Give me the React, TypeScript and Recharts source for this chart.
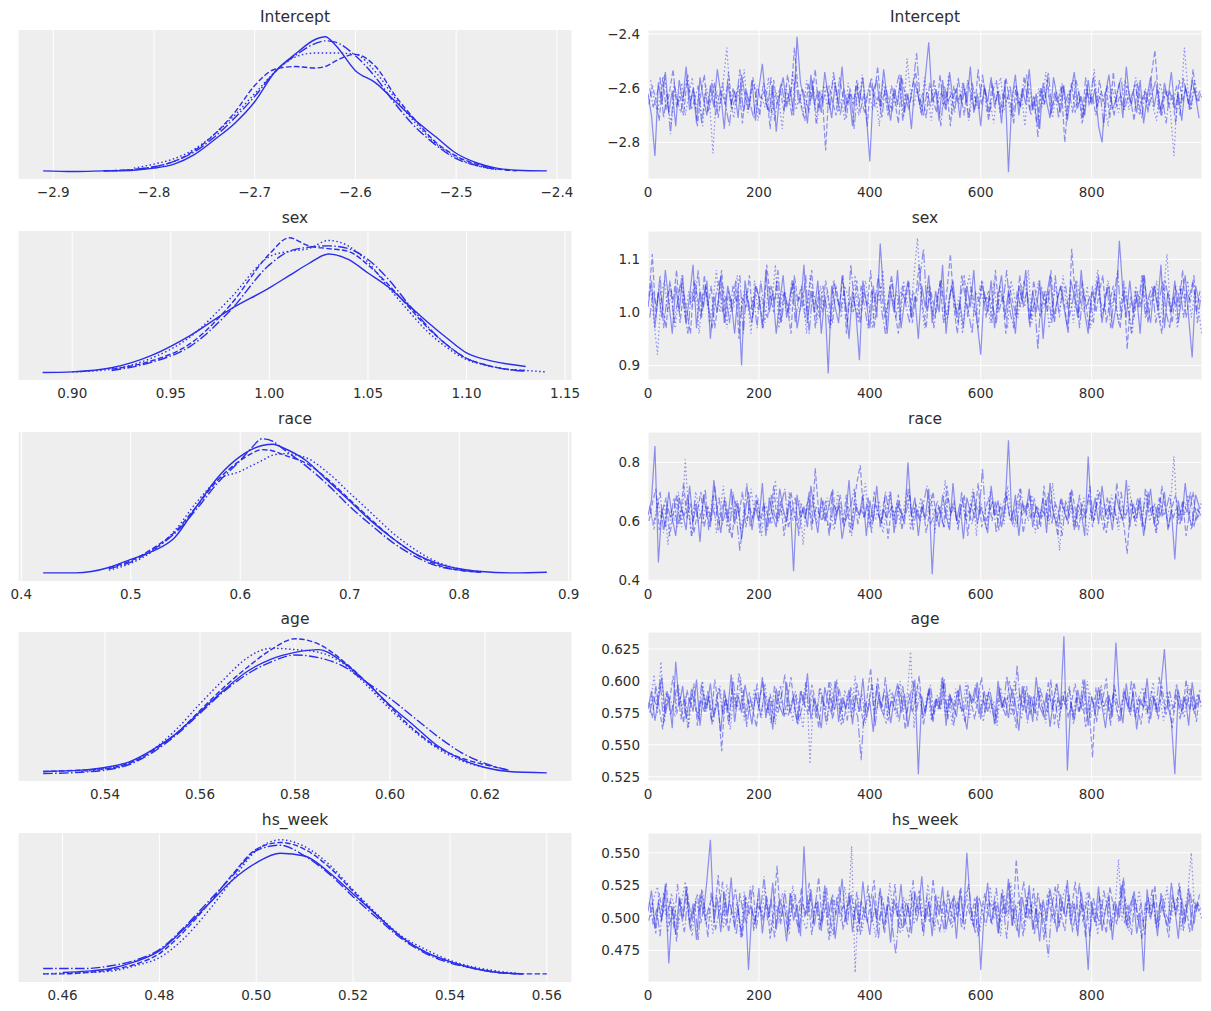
import { CartesianGrid, Line, LineChart, XAxis, YAxis } from "recharts";

const BLUE = "#2a2eec";
const PANEL_BG = "#eeeeee";
const TEXT = "#2e2e2e";
const FONT = "'DejaVu Sans', sans-serif";

// chain 0..3: solid, dashed, dash-dot, dotted
const CHAIN_DASH = [undefined, "5.5 2.4", "9.6 2.4 1.5 2.4", "1.5 2.5"];
const CHAINS = ["c0", "c1", "c2", "c3"];

const DRAW_TICKS = [0, 200, 400, 600, 800];
// ~every 6th draw out of 0..999, the four chains sampled a quarter-step apart
const STEP = 6.25;
const drawAt = (i: number, c: number) => i * STEP + (c * STEP) / 4;

const _ = null;

// ---------- Intercept ----------
const interceptGrid = [-2.91, -2.88, -2.85, -2.82, -2.8, -2.78, -2.76, -2.74, -2.72, -2.7, -2.68, -2.66, -2.64, -2.63, -2.62, -2.6, -2.58, -2.56, -2.54, -2.52, -2.5, -2.48, -2.46, -2.44, -2.41];
const interceptKde = [
  [1, 0.5, 1, 1.5, 3, 6, 13, 24, 36, 52, 74, 87, 98, 100, 94, 75, 66, 52, 38, 26, 14, 7, 3, 1.5, 1],
  [_, _, 1, 2, 4, 8, 16, 28, 44, 64, 76, 78, 77, 78, 82, 87, 78, 56, 38, 22, 12, 6, 2.5, 1, _],
  [_, _, 1, 2, 4, 8, 15, 26, 40, 56, 74, 86, 95, 97, 96, 86, 70, 50, 33, 20, 10, 5, 2, _, _],
  [_, _, _, 3, 6, 10, 17, 28, 42, 58, 74, 85, 88, 88, 88, 87, 74, 54, 36, 21, 11, 5, 2, _, _],
];
const interceptTrace = [
  [-2.62, -2.7, -2.85, -2.58, -2.66, -2.54, -2.69, -2.61, -2.74, -2.57, -2.65, -2.52, -2.68, -2.6, -2.73, -2.56, -2.64, -2.7, -2.59, -2.67, -2.53, -2.62, -2.75, -2.58, -2.66, -2.61, -2.71, -2.55, -2.63, -2.68, -2.57, -2.72, -2.6, -2.51, -2.65, -2.69, -2.59, -2.76, -2.62, -2.56, -2.67, -2.6, -2.7, -2.41, -2.58, -2.64, -2.73, -2.55, -2.66, -2.61, -2.69, -2.54, -2.63, -2.71, -2.58, -2.66, -2.52, -2.68, -2.62, -2.74, -2.59, -2.65, -2.56, -2.7, -2.87, -2.61, -2.57, -2.67, -2.53, -2.64, -2.72, -2.6, -2.66, -2.55, -2.69, -2.62, -2.75, -2.58, -2.63, -2.7, -2.56, -2.43, -2.65, -2.61, -2.72, -2.57, -2.68, -2.54, -2.64, -2.6, -2.71, -2.58, -2.66, -2.52, -2.69, -2.62, -2.74, -2.59, -2.65, -2.56, -2.67, -2.61, -2.73, -2.57, -2.91, -2.64, -2.55, -2.7, -2.6, -2.66, -2.53, -2.68, -2.62, -2.75, -2.58, -2.65, -2.71, -2.56, -2.63, -2.69, -2.59, -2.72, -2.61, -2.54, -2.67, -2.63, -2.7, -2.57, -2.66, -2.6, -2.74, -2.8, -2.62, -2.55, -2.68, -2.64, -2.58, -2.71, -2.52, -2.65, -2.61, -2.69, -2.57, -2.73, -2.63, -2.56, -2.67, -2.6, -2.7, -2.58, -2.64, -2.54, -2.68, -2.62, -2.72, -2.59, -2.66, -2.57, -2.63, -2.71],
  [-2.66, -2.59, -2.64, -2.72, -2.56, -2.68, -2.61, -2.53, -2.67, -2.63, -2.7, -2.57, -2.65, -2.6, -2.74, -2.62, -2.55, -2.69, -2.64, -2.58, -2.71, -2.61, -2.66, -2.54, -2.68, -2.63, -2.59, -2.73, -2.6, -2.67, -2.56, -2.64, -2.7, -2.58, -2.62, -2.75, -2.57, -2.66, -2.61, -2.69, -2.55, -2.63, -2.45, -2.6, -2.67, -2.72, -2.58, -2.64, -2.53, -2.68, -2.62, -2.83, -2.59, -2.65, -2.7, -2.56, -2.63, -2.71, -2.6, -2.66, -2.57, -2.69, -2.62, -2.74, -2.58, -2.64, -2.52, -2.67, -2.61, -2.7, -2.59, -2.65, -2.73, -2.56, -2.63, -2.68, -2.6, -2.54, -2.66, -2.62, -2.71, -2.58, -2.64, -2.69, -2.55, -2.67, -2.61, -2.74, -2.59, -2.65, -2.62, -2.7, -2.57, -2.63, -2.68, -2.53, -2.66, -2.6, -2.72, -2.58, -2.65, -2.61, -2.69, -2.56, -2.64, -2.71, -2.59, -2.67, -2.62, -2.55, -2.68, -2.63, -2.74, -2.6, -2.66, -2.57, -2.7, -2.62, -2.65, -2.59, -2.8, -2.64, -2.58, -2.69, -2.61, -2.73, -2.56, -2.66, -2.63, -2.7, -2.57, -2.65, -2.6, -2.71, -2.54, -2.67, -2.62, -2.68, -2.59, -2.64, -2.72, -2.58, -2.66, -2.61, -2.69, -2.55, -2.46, -2.63, -2.7, -2.6, -2.67, -2.62, -2.73, -2.57, -2.65, -2.6, -2.68, -2.53, -2.64, -2.61],
  [-2.6, -2.67, -2.63, -2.56, -2.71, -2.62, -2.77, -2.58, -2.65, -2.69, -2.61, -2.55, -2.68, -2.64, -2.59, -2.73, -2.62, -2.66, -2.57, -2.7, -2.63, -2.58, -2.67, -2.74, -2.6, -2.65, -2.53, -2.69, -2.62, -2.66, -2.71, -2.59, -2.64, -2.61, -2.68, -2.56, -2.72, -2.63, -2.58, -2.67, -2.62, -2.7, -2.55, -2.66, -2.6, -2.64, -2.69, -2.57, -2.73, -2.61, -2.65, -2.59, -2.68, -2.54, -2.63, -2.7, -2.6, -2.66, -2.62, -2.75, -2.58, -2.64, -2.69, -2.61, -2.56, -2.67, -2.63, -2.71, -2.59, -2.65, -2.68, -2.6, -2.55, -2.72, -2.62, -2.66, -2.58, -2.47, -2.64, -2.7, -2.61, -2.67, -2.57, -2.63, -2.74, -2.59, -2.65, -2.62, -2.69, -2.56, -2.66, -2.6, -2.72, -2.58, -2.64, -2.68, -2.55, -2.63, -2.7, -2.61, -2.57, -2.69, -2.62, -2.65, -2.59, -2.73, -2.61, -2.67, -2.56, -2.64, -2.7, -2.63, -2.78, -2.6, -2.66, -2.54, -2.68, -2.62, -2.71, -2.58, -2.65, -2.61, -2.69, -2.57, -2.63, -2.72, -2.6, -2.66, -2.55, -2.67, -2.62, -2.74, -2.59, -2.64, -2.7, -2.61, -2.56, -2.68, -2.63, -2.66, -2.58, -2.65, -2.71, -2.6, -2.67, -2.62, -2.57, -2.69, -2.64, -2.73, -2.61, -2.66, -2.59, -2.7, -2.56, -2.63, -2.68, -2.6, -2.65, -2.62],
  [-2.57, -2.64, -2.69, -2.61, -2.55, -2.67, -2.73, -2.6, -2.66, -2.58, -2.7, -2.63, -2.56, -2.68, -2.62, -2.74, -2.59, -2.65, -2.84, -2.61, -2.67, -2.57, -2.45, -2.64, -2.71, -2.6, -2.66, -2.53, -2.69, -2.62, -2.58, -2.72, -2.63, -2.67, -2.56, -2.7, -2.61, -2.64, -2.75, -2.59, -2.66, -2.54, -2.68, -2.62, -2.7, -2.57, -2.65, -2.6, -2.73, -2.63, -2.59, -2.67, -2.61, -2.56, -2.69, -2.64, -2.72, -2.58, -2.66, -2.62, -2.7, -2.55, -2.65, -2.6, -2.68, -2.63, -2.74, -2.57, -2.64, -2.69, -2.61, -2.67, -2.58, -2.71, -2.49, -2.62, -2.66, -2.6, -2.69, -2.56, -2.64, -2.72, -2.59, -2.65, -2.61, -2.68, -2.55, -2.7, -2.63, -2.66, -2.58, -2.64, -2.71, -2.6, -2.67, -2.62, -2.57, -2.69, -2.65, -2.73, -2.61, -2.56, -2.68, -2.63, -2.7, -2.59, -2.66, -2.62, -2.74, -2.58, -2.65, -2.69, -2.6, -2.67, -2.54, -2.64, -2.71, -2.61, -2.66, -2.59, -2.72, -2.62, -2.57, -2.68, -2.63, -2.7, -2.6, -2.65, -2.53, -2.67, -2.61, -2.66, -2.74, -2.59, -2.64, -2.69, -2.62, -2.57, -2.68, -2.63, -2.56, -2.7, -2.63, -2.65, -2.6, -2.67, -2.72, -2.58, -2.64, -2.61, -2.69, -2.85, -2.62, -2.66, -2.45, -2.6, -2.68, -2.57, -2.65, -2.63],
];
const interceptKdeTicks = [-2.9, -2.8, -2.7, -2.6, -2.5, -2.4];
const interceptTraceTicks = [-2.8, -2.6, -2.4];

// ---------- sex ----------
const sexGrid = [0.885, 0.9, 0.92, 0.94, 0.96, 0.98, 1.0, 1.01, 1.02, 1.03, 1.04, 1.05, 1.06, 1.07, 1.08, 1.09, 1.1, 1.11, 1.12, 1.13, 1.14];
const sexKde = [
  [0.5, 1, 4, 13, 28, 47, 63, 72, 81, 88, 84, 74, 64, 51, 38, 26, 15, 10, 7, 5, _],
  [_, _, 3, 9, 22, 50, 88, 100, 94, 92, 90, 80, 66, 50, 34, 21, 11, 6, 3, 2, _],
  [_, _, 2, 8, 20, 46, 80, 90, 93, 94, 92, 84, 70, 52, 35, 21, 11, 6, 3, 1.5, _],
  [_, 1, 3, 11, 27, 55, 86, 90, 92, 98, 94, 82, 64, 47, 31, 19, 10, 6, 3, 2, 1],
];
const sexTrace = [
  [1.01, 1.06, 0.97, 1.04, 0.99, 1.08, 1.02, 0.96, 1.05, 1.0, 1.07, 0.98, 1.03, 1.09, 0.97, 1.04, 1.01, 1.06, 0.95, 1.03, 1.0, 1.07, 0.98, 1.05, 1.02, 0.96, 1.04, 0.9, 1.06, 1.01, 0.98, 1.05, 1.03, 0.97, 1.08, 1.0, 1.04, 0.96, 1.02, 1.07, 0.99, 1.03, 1.06, 0.97, 1.01, 1.09, 0.98, 1.04, 1.0, 1.06, 0.96, 1.03, 0.885, 1.05, 1.01, 0.98, 1.07, 1.02, 0.95, 1.04, 1.0, 0.91, 1.06, 1.02, 0.97, 1.05, 0.99, 1.13, 1.03, 0.96, 1.04, 1.0, 1.08, 0.97, 1.02, 1.06, 0.99, 1.03, 0.95, 1.05, 1.01, 1.07, 0.98, 1.04, 1.0, 1.09, 0.96, 1.03, 1.06, 0.99, 1.02, 0.97, 1.05, 1.01, 1.08, 0.98, 0.92, 1.04, 1.0, 1.06, 0.97, 1.03, 1.07, 0.99, 1.04, 1.01, 0.96, 1.05, 1.02, 1.08, 0.98, 1.04, 1.0, 1.06, 0.95, 1.03, 1.07, 0.99, 1.02, 1.05, 1.01, 0.97, 1.06, 1.03, 0.99, 1.08, 1.0, 0.96, 1.04, 1.02, 1.07, 0.98, 1.03, 1.05, 0.97, 1.01, 1.135, 1.04, 0.99, 1.06, 1.0, 1.03, 0.96, 1.07, 1.02, 0.98, 1.05, 1.01, 1.09, 0.97, 1.04, 1.0, 1.06, 0.98, 1.03, 1.07, 0.99, 0.915, 1.05, 1.02],
  [1.03, 1.11, 0.99, 1.05, 1.01, 0.97, 1.06, 1.02, 1.08, 0.98, 1.04, 1.0, 0.96, 1.06, 1.03, 0.99, 1.07, 1.01, 1.05, 0.97, 1.02, 1.08, 0.98, 1.04, 1.0, 1.06, 0.95, 1.03, 1.01, 1.07, 0.99, 1.05, 1.02, 0.97, 1.09, 1.03, 1.0, 1.06, 0.98, 1.04, 1.01, 0.96, 1.07, 1.02, 1.05, 0.99, 1.03, 1.08, 0.97, 1.04, 1.0, 1.06, 1.02, 0.98, 1.05, 1.01, 1.07, 0.96, 1.03, 1.0, 1.06, 0.98, 1.04, 1.01, 1.08, 0.97, 1.03, 1.05, 0.99, 1.02, 1.07, 1.0, 0.96, 1.04, 1.02, 1.06, 0.98, 1.03, 1.09, 1.01, 0.97, 1.05, 1.02, 1.0, 1.06, 0.98, 1.04, 1.11, 1.01, 0.96, 1.03, 1.07, 0.99, 1.05, 1.01, 0.97, 1.06, 1.02, 1.04, 0.98, 1.08, 1.0, 1.03, 0.96, 1.05, 1.02, 0.99, 1.07, 1.01, 1.04, 0.97, 1.06, 1.02, 0.99, 1.04, 1.0, 1.08, 0.98, 1.03, 1.05, 1.01, 0.96, 1.12, 1.03, 0.99, 1.06, 1.02, 0.97, 1.05, 1.0, 1.04, 1.07, 0.98, 1.02, 1.05, 1.0, 0.97, 1.06, 0.93, 1.03, 0.99, 1.04, 1.01, 1.07, 0.98, 1.03, 1.05, 1.0, 0.96, 1.06, 1.02, 0.98, 1.05, 1.01, 1.08, 0.99, 1.03, 1.06, 1.0, 1.04],
  [0.99, 1.04, 1.01, 1.07, 0.97, 1.03, 1.05, 0.98, 1.02, 1.06, 1.0, 0.96, 1.04, 1.02, 1.08, 0.99, 1.05, 1.01, 0.97, 1.03, 1.06, 1.0, 1.03, 0.98, 1.05, 1.02, 1.07, 0.96, 1.04, 1.0, 1.03, 0.97, 1.06, 1.01, 0.99, 1.05, 1.02, 1.08, 0.98, 1.04, 1.0, 1.06, 0.98, 1.03, 1.01, 1.07, 0.96, 1.04, 1.02, 0.99, 1.05, 1.01, 0.97, 1.06, 1.03, 1.0, 1.04, 0.98, 1.09, 1.02, 0.99, 1.05, 1.01, 0.97, 1.04, 1.02, 1.07, 1.0, 0.96, 1.03, 1.06, 0.99, 1.03, 1.05, 1.01, 0.98, 1.04, 1.02, 1.07, 1.12, 1.0, 1.04, 0.97, 1.03, 1.06, 1.01, 0.99, 1.05, 1.02, 0.98, 1.07, 1.03, 1.0, 0.96, 1.04, 1.02, 1.06, 0.99, 1.03, 1.01, 0.98, 1.05, 1.02, 1.08, 1.0, 0.97, 1.04, 1.01, 1.06, 1.03, 0.99, 1.02, 0.93, 1.05, 1.01, 1.04, 0.98, 1.07, 1.0, 1.03, 1.05, 0.99, 1.02, 1.06, 0.97, 1.04, 1.01, 1.03, 0.98, 1.06, 1.02, 1.0, 1.05, 0.97, 1.03, 1.08, 0.99, 1.04, 1.01, 0.96, 1.04, 1.01, 1.07, 0.99, 1.03, 1.05, 0.98, 1.02, 1.06, 1.0, 0.97, 1.03, 1.01, 1.05, 0.99, 1.04, 1.02, 1.07, 0.98, 1.03],
  [1.05, 0.98, 0.92, 1.03, 1.06, 1.0, 1.04, 0.97, 1.02, 1.07, 0.99, 1.04, 1.01, 1.06, 0.96, 1.03, 1.05, 0.98, 1.02, 1.08, 1.0, 1.05, 0.97, 1.03, 1.01, 1.07, 0.99, 1.04, 1.02, 0.96, 1.06, 1.0, 1.03, 0.98, 1.05, 1.02, 1.09, 0.97, 1.04, 1.01, 0.99, 1.06, 1.03, 1.0, 1.04, 0.96, 1.07, 1.02, 0.98, 1.05, 1.01, 1.04, 0.97, 1.06, 1.02, 0.99, 1.05, 1.03, 1.0, 1.07, 0.98, 1.03, 1.06, 1.01, 0.97, 1.04, 1.02, 1.08, 0.99, 1.05, 1.01, 1.04, 0.98, 1.06, 1.02, 1.0, 1.07, 1.14, 1.03, 0.97, 1.05, 1.01, 0.99, 1.04, 1.06, 0.98, 1.02, 1.05, 1.0, 1.03, 0.96, 1.04, 1.07, 1.01, 0.99, 1.05, 1.02, 1.03, 0.98, 1.06, 1.0, 1.04, 1.02, 0.97, 1.06, 1.03, 0.99, 1.05, 1.01, 1.08, 0.98, 1.03, 1.06, 1.0, 1.04, 0.97, 1.02, 1.05, 0.99, 1.07, 1.01, 1.04, 0.98, 1.06, 1.02, 1.0, 1.05, 0.97, 1.03, 1.08, 0.99, 1.02, 1.06, 1.01, 1.04, 0.98, 1.03, 1.05, 1.0, 0.96, 1.05, 1.01, 1.07, 0.99, 1.03, 1.02, 1.06, 0.98, 1.04, 1.11, 1.0, 1.03, 0.97, 1.05, 1.02, 1.06, 0.99, 1.04, 1.01, 0.96],
];
const sexKdeTicks = [0.9, 0.95, 1.0, 1.05, 1.1, 1.15];
const sexTraceTicks = [0.9, 1.0, 1.1];

// ---------- race ----------
const raceGrid = [0.42, 0.45, 0.48, 0.5, 0.52, 0.54, 0.56, 0.58, 0.6, 0.61, 0.62, 0.63, 0.64, 0.66, 0.68, 0.7, 0.72, 0.74, 0.76, 0.78, 0.8, 0.82, 0.85, 0.88];
const raceKde = [
  [1, 1, 5, 11, 17, 27, 50, 72, 87, 92, 95, 96, 93, 84, 69, 54, 39, 26, 15, 8, 4, 2, 1, 1.5],
  [_, _, 5, 10, 19, 31, 50, 70, 84, 89, 92, 91, 88, 82, 70, 55, 40, 26, 15, 7, 3, 1.5, _, _],
  [_, _, 4, 9, 18, 30, 48, 68, 84, 93, 100, 98, 92, 80, 66, 50, 36, 23, 13, 6, 3, 1.5, _, _],
  [_, _, 3, 8, 17, 32, 53, 70, 76, 80, 84, 88, 89, 86, 75, 60, 45, 30, 18, 9, 4, 2, _, _],
];
const raceTrace = [
  [0.62, 0.67, 0.855, 0.46, 0.64, 0.58, 0.7, 0.61, 0.55, 0.68, 0.63, 0.57, 0.72, 0.6, 0.66, 0.53, 0.69, 0.62, 0.58, 0.74, 0.64, 0.56, 0.67, 0.61, 0.71, 0.59, 0.66, 0.54, 0.63, 0.7, 0.57, 0.65, 0.6, 0.73, 0.55, 0.68, 0.62, 0.58, 0.71, 0.64, 0.6, 0.67, 0.43, 0.69, 0.61, 0.65, 0.58, 0.72, 0.63, 0.56, 0.68, 0.6, 0.64, 0.7, 0.59, 0.66, 0.54, 0.61, 0.74, 0.57, 0.65, 0.62, 0.69, 0.55, 0.67, 0.6, 0.72, 0.58, 0.64, 0.61, 0.7, 0.56, 0.66, 0.63, 0.59, 0.8, 0.62, 0.68, 0.55, 0.65, 0.61, 0.71, 0.42, 0.64, 0.58, 0.69, 0.62, 0.57, 0.73, 0.6, 0.66, 0.54, 0.68, 0.63, 0.7, 0.59, 0.65, 0.61, 0.56, 0.72, 0.62, 0.67, 0.58, 0.64, 0.875, 0.6, 0.69, 0.55, 0.66, 0.63, 0.71, 0.58, 0.65, 0.61, 0.68, 0.56, 0.73, 0.62, 0.59, 0.67, 0.64, 0.6, 0.7, 0.57, 0.66, 0.63, 0.55, 0.82, 0.61, 0.68, 0.59, 0.72, 0.62, 0.65, 0.57, 0.69, 0.64, 0.6, 0.74, 0.58, 0.66, 0.61, 0.68, 0.55, 0.63, 0.71, 0.59, 0.65, 0.62, 0.7, 0.57, 0.64, 0.47, 0.67, 0.6, 0.73, 0.62, 0.58, 0.69, 0.65],
  [0.6, 0.66, 0.71, 0.57, 0.64, 0.68, 0.55, 0.62, 0.69, 0.59, 0.73, 0.61, 0.66, 0.56, 0.63, 0.7, 0.58, 0.65, 0.6, 0.72, 0.57, 0.64, 0.68, 0.61, 0.54, 0.67, 0.62, 0.7, 0.58, 0.65, 0.61, 0.69, 0.56, 0.66, 0.63, 0.59, 0.72, 0.6, 0.67, 0.55, 0.64, 0.7, 0.62, 0.58, 0.66, 0.61, 0.68, 0.57, 0.78, 0.63, 0.6, 0.67, 0.55, 0.71, 0.62, 0.65, 0.59, 0.69, 0.56, 0.64, 0.73, 0.79, 0.61, 0.66, 0.58, 0.7, 0.63, 0.6, 0.68, 0.54, 0.65, 0.62, 0.69, 0.57, 0.64, 0.71, 0.59, 0.66, 0.61, 0.67, 0.56, 0.63, 0.7, 0.6, 0.65, 0.58, 0.72, 0.62, 0.67, 0.59, 0.64, 0.69, 0.55, 0.66, 0.61, 0.73, 0.58, 0.63, 0.68, 0.6, 0.67, 0.57, 0.64, 0.7, 0.62, 0.59, 0.66, 0.71, 0.56, 0.63, 0.69, 0.61, 0.65, 0.58, 0.72, 0.6, 0.67, 0.62, 0.55, 0.68, 0.63, 0.59, 0.71, 0.64, 0.57, 0.66, 0.61, 0.69, 0.58, 0.65, 0.7, 0.62, 0.56, 0.67, 0.6, 0.73, 0.64, 0.59, 0.49, 0.66, 0.61, 0.68, 0.63, 0.57, 0.7, 0.62, 0.66, 0.59, 0.72, 0.64, 0.58, 0.65, 0.69, 0.61, 0.67, 0.55, 0.63, 0.7, 0.6, 0.66],
  [0.65, 0.59, 0.63, 0.7, 0.56, 0.66, 0.61, 0.68, 0.58, 0.64, 0.62, 0.69, 0.55, 0.67, 0.6, 0.63, 0.71, 0.57, 0.65, 0.61, 0.68, 0.59, 0.64, 0.56, 0.7, 0.62, 0.5, 0.6, 0.73, 0.58, 0.63, 0.67, 0.61, 0.65, 0.57, 0.69, 0.62, 0.6, 0.66, 0.71, 0.58, 0.63, 0.68, 0.55, 0.64, 0.61, 0.7, 0.59, 0.65, 0.62, 0.67, 0.6, 0.57, 0.66, 0.63, 0.69, 0.58, 0.62, 0.65, 0.71, 0.59, 0.64, 0.61, 0.68, 0.56, 0.66, 0.62, 0.59, 0.7, 0.63, 0.65, 0.58, 0.67, 0.61, 0.63, 0.69, 0.57, 0.64, 0.6, 0.66, 0.72, 0.59, 0.62, 0.67, 0.61, 0.58, 0.68, 0.63, 0.65, 0.57, 0.7, 0.61, 0.64, 0.59, 0.66, 0.62, 0.78, 0.6, 0.63, 0.67, 0.56, 0.65, 0.62, 0.69, 0.6, 0.64, 0.58, 0.71, 0.63, 0.66, 0.61, 0.68, 0.57, 0.64, 0.62, 0.7, 0.59, 0.66, 0.63, 0.55, 0.67, 0.62, 0.65, 0.58, 0.69, 0.61, 0.64, 0.72, 0.6, 0.66, 0.63, 0.57, 0.68, 0.62, 0.65, 0.59, 0.7, 0.61, 0.64, 0.67, 0.6, 0.66, 0.58, 0.71, 0.63, 0.65, 0.56, 0.68, 0.62, 0.64, 0.69, 0.61, 0.65, 0.59, 0.67, 0.63, 0.7, 0.58, 0.64, 0.62],
  [0.63, 0.57, 0.68, 0.61, 0.66, 0.52, 0.64, 0.6, 0.7, 0.58, 0.81, 0.62, 0.55, 0.7, 0.64, 0.59, 0.66, 0.61, 0.69, 0.56, 0.63, 0.72, 0.58, 0.65, 0.61, 0.67, 0.57, 0.64, 0.6, 0.71, 0.62, 0.68, 0.55, 0.66, 0.63, 0.59, 0.74, 0.61, 0.65, 0.58, 0.7, 0.6, 0.64, 0.67, 0.52, 0.66, 0.62, 0.69, 0.59, 0.65, 0.61, 0.68, 0.63, 0.57, 0.7, 0.64, 0.6, 0.66, 0.55, 0.69, 0.62, 0.65, 0.73, 0.58, 0.64, 0.61, 0.67, 0.56, 0.63, 0.7, 0.6, 0.66, 0.59, 0.64, 0.71, 0.57, 0.65, 0.62, 0.68, 0.6, 0.63, 0.69, 0.56, 0.65, 0.61, 0.74, 0.58, 0.66, 0.62, 0.59, 0.67, 0.6, 0.64, 0.71, 0.55, 0.68, 0.62, 0.57, 0.7, 0.64, 0.61, 0.66, 0.59, 0.72, 0.63, 0.58, 0.67, 0.62, 0.65, 0.6, 0.69, 0.56, 0.64, 0.61, 0.67, 0.59, 0.73, 0.62, 0.5, 0.66, 0.63, 0.7, 0.58, 0.65, 0.61, 0.68, 0.55, 0.64, 0.6, 0.71, 0.62, 0.66, 0.59, 0.69, 0.63, 0.57, 0.65, 0.61, 0.72, 0.64, 0.58, 0.67, 0.62, 0.7, 0.6, 0.65, 0.56, 0.68, 0.63, 0.61, 0.66, 0.82, 0.59, 0.64, 0.62, 0.69, 0.57, 0.65, 0.61, 0.67],
];
const raceKdeTicks = [0.4, 0.5, 0.6, 0.7, 0.8, 0.9];
const raceTraceTicks = [0.4, 0.6, 0.8];

// ---------- age ----------
const ageGrid = [0.527, 0.535, 0.54, 0.545, 0.55, 0.555, 0.56, 0.565, 0.57, 0.575, 0.58, 0.585, 0.59, 0.595, 0.6, 0.605, 0.61, 0.615, 0.62, 0.625, 0.633];
const ageKde = [
  [2, 3, 5, 9, 18, 30, 46, 62, 76, 85, 90, 92, 83, 68, 51, 36, 21, 11, 5, 2, 1],
  [2, 3, 4, 8, 17, 30, 47, 64, 79, 92, 100, 96, 84, 68, 50, 33, 20, 12, 7, 3, _],
  [0.5, 1.5, 3, 7, 16, 29, 45, 61, 74, 83, 88, 86, 80, 68, 56, 42, 28, 16, 8, 3, _],
  [_, 2, 4, 8, 18, 33, 52, 70, 86, 93, 92, 90, 82, 66, 48, 32, 19, 10, 5, _, _],
];
const ageTrace = [
  [0.578, 0.592, 0.569, 0.585, 0.603, 0.574, 0.588, 0.563, 0.615, 0.581, 0.596, 0.57, 0.587, 0.576, 0.601, 0.565, 0.59, 0.579, 0.598, 0.572, 0.584, 0.56, 0.593, 0.577, 0.605, 0.568, 0.589, 0.575, 0.597, 0.582, 0.566, 0.591, 0.579, 0.603, 0.571, 0.586, 0.562, 0.594, 0.58, 0.573, 0.599, 0.575, 0.588, 0.567, 0.592, 0.581, 0.606, 0.57, 0.585, 0.577, 0.563, 0.595, 0.582, 0.574, 0.6, 0.568, 0.587, 0.579, 0.593, 0.566, 0.589, 0.576, 0.602, 0.571, 0.584, 0.56, 0.596, 0.58, 0.573, 0.591, 0.567, 0.585, 0.598, 0.575, 0.59, 0.564, 0.583, 0.601, 0.527, 0.588, 0.574, 0.594, 0.569, 0.586, 0.578, 0.603, 0.565, 0.59, 0.581, 0.572, 0.597, 0.577, 0.562, 0.589, 0.584, 0.599, 0.57, 0.592, 0.576, 0.585, 0.566, 0.6, 0.579, 0.587, 0.571, 0.594, 0.582, 0.561, 0.596, 0.575, 0.589, 0.568, 0.603, 0.58, 0.573, 0.591, 0.564, 0.586, 0.598, 0.577, 0.635, 0.53, 0.584, 0.569, 0.593, 0.578, 0.601, 0.565, 0.588, 0.574, 0.595, 0.58, 0.563, 0.589, 0.572, 0.63, 0.584, 0.567, 0.598, 0.576, 0.591, 0.562, 0.586, 0.579, 0.602, 0.57, 0.587, 0.575, 0.596, 0.625, 0.581, 0.568, 0.527, 0.593, 0.576, 0.588, 0.565, 0.599, 0.579, 0.585],
  [0.583, 0.571, 0.596, 0.579, 0.562, 0.59, 0.585, 0.604, 0.574, 0.588, 0.567, 0.593, 0.58, 0.598, 0.565, 0.586, 0.576, 0.592, 0.569, 0.601, 0.582, 0.545, 0.589, 0.566, 0.595, 0.578, 0.606, 0.584, 0.57, 0.591, 0.577, 0.564, 0.587, 0.599, 0.575, 0.59, 0.568, 0.583, 0.596, 0.572, 0.586, 0.603, 0.579, 0.566, 0.592, 0.581, 0.574, 0.597, 0.585, 0.563, 0.589, 0.577, 0.6, 0.57, 0.584, 0.594, 0.567, 0.58, 0.591, 0.576, 0.598, 0.582, 0.565, 0.588, 0.61, 0.574, 0.602, 0.579, 0.593, 0.569, 0.585, 0.577, 0.596, 0.583, 0.562, 0.59, 0.575, 0.587, 0.604, 0.571, 0.582, 0.594, 0.568, 0.586, 0.578, 0.599, 0.573, 0.589, 0.565, 0.592, 0.58, 0.576, 0.597, 0.584, 0.57, 0.588, 0.603, 0.574, 0.591, 0.579, 0.567, 0.595, 0.581, 0.572, 0.6, 0.585, 0.563, 0.59, 0.577, 0.596, 0.573, 0.588, 0.569, 0.594, 0.582, 0.576, 0.601, 0.566, 0.587, 0.579, 0.592, 0.571, 0.584, 0.598, 0.575, 0.589, 0.564, 0.581, 0.54, 0.595, 0.578, 0.586, 0.602, 0.57, 0.591, 0.577, 0.568, 0.594, 0.583, 0.573, 0.599, 0.58, 0.566, 0.587, 0.575, 0.592, 0.584, 0.57, 0.596, 0.578, 0.586, 0.563, 0.59, 0.581, 0.574, 0.601, 0.577, 0.589, 0.568, 0.593],
  [0.575, 0.588, 0.579, 0.601, 0.567, 0.592, 0.573, 0.584, 0.597, 0.57, 0.586, 0.563, 0.594, 0.58, 0.572, 0.599, 0.576, 0.589, 0.566, 0.583, 0.595, 0.574, 0.587, 0.569, 0.602, 0.581, 0.577, 0.593, 0.564, 0.585, 0.578, 0.598, 0.571, 0.59, 0.582, 0.567, 0.596, 0.575, 0.588, 0.605, 0.573, 0.584, 0.592, 0.568, 0.58, 0.599, 0.576, 0.589, 0.571, 0.594, 0.583, 0.566, 0.59, 0.578, 0.601, 0.574, 0.587, 0.569, 0.595, 0.581, 0.572, 0.538, 0.585, 0.577, 0.598, 0.564, 0.588, 0.579, 0.603, 0.575, 0.59, 0.582, 0.568, 0.596, 0.573, 0.586, 0.6, 0.577, 0.591, 0.566, 0.584, 0.597, 0.574, 0.589, 0.578, 0.602, 0.57, 0.587, 0.581, 0.593, 0.576, 0.568, 0.59, 0.583, 0.597, 0.572, 0.586, 0.579, 0.594, 0.581, 0.569, 0.591, 0.577, 0.604, 0.585, 0.573, 0.612, 0.58, 0.596, 0.567, 0.588, 0.575, 0.593, 0.582, 0.57, 0.599, 0.578, 0.586, 0.563, 0.591, 0.58, 0.596, 0.571, 0.587, 0.576, 0.601, 0.574, 0.59, 0.583, 0.568, 0.594, 0.579, 0.588, 0.565, 0.597, 0.582, 0.573, 0.592, 0.578, 0.6, 0.571, 0.586, 0.58, 0.595, 0.567, 0.589, 0.576, 0.603, 0.584, 0.573, 0.592, 0.578, 0.598, 0.57, 0.587, 0.581, 0.594, 0.575, 0.59, 0.583],
  [0.581, 0.605, 0.574, 0.615, 0.568, 0.59, 0.583, 0.572, 0.597, 0.578, 0.588, 0.564, 0.593, 0.581, 0.57, 0.6, 0.576, 0.589, 0.567, 0.584, 0.596, 0.573, 0.586, 0.562, 0.591, 0.579, 0.603, 0.569, 0.585, 0.577, 0.594, 0.582, 0.571, 0.598, 0.575, 0.587, 0.566, 0.592, 0.58, 0.573, 0.584, 0.569, 0.59, 0.578, 0.563, 0.599, 0.535, 0.586, 0.574, 0.595, 0.581, 0.568, 0.599, 0.577, 0.588, 0.565, 0.593, 0.582, 0.571, 0.604, 0.576, 0.59, 0.567, 0.585, 0.597, 0.574, 0.589, 0.579, 0.566, 0.594, 0.583, 0.572, 0.6, 0.578, 0.587, 0.623, 0.563, 0.596, 0.581, 0.575, 0.591, 0.569, 0.585, 0.578, 0.602, 0.573, 0.588, 0.566, 0.594, 0.58, 0.577, 0.599, 0.571, 0.586, 0.582, 0.592, 0.568, 0.59, 0.576, 0.584, 0.565, 0.595, 0.579, 0.588, 0.573, 0.601, 0.583, 0.57, 0.592, 0.578, 0.587, 0.574, 0.596, 0.581, 0.567, 0.59, 0.577, 0.598, 0.572, 0.585, 0.579, 0.593, 0.566, 0.588, 0.582, 0.575, 0.6, 0.571, 0.586, 0.58, 0.597, 0.573, 0.589, 0.578, 0.594, 0.568, 0.584, 0.591, 0.576, 0.582, 0.57, 0.588, 0.595, 0.574, 0.583, 0.599, 0.577, 0.586, 0.569, 0.592, 0.58, 0.576, 0.591, 0.585, 0.571, 0.597, 0.583, 0.574, 0.589, 0.578],
];
const ageKdeTicks = [0.54, 0.56, 0.58, 0.6, 0.62];
const ageTraceTicks = [0.525, 0.55, 0.575, 0.6, 0.625];

// ---------- hs_week ----------
const hsGrid = [0.456, 0.46, 0.465, 0.47, 0.475, 0.48, 0.485, 0.49, 0.495, 0.5, 0.505, 0.51, 0.515, 0.52, 0.525, 0.53, 0.535, 0.54, 0.545, 0.55, 0.555, 0.56];
const hsKde = [
  [_, 2, 3, 5, 10, 18, 34, 52, 70, 83, 90, 88, 76, 60, 44, 28, 17, 10, 5, 2, 1, _],
  [1, 1, 2, 4, 8, 16, 32, 52, 74, 93, 98, 93, 80, 62, 44, 28, 17, 10, 5, 2, 1, 1],
  [5, 5, 5, 7, 11, 19, 35, 54, 73, 92, 96, 88, 75, 58, 42, 27, 16, 9, 5, 2, 1, _],
  [1, 1.5, 2, 3, 7, 13, 27, 47, 70, 92, 100, 95, 82, 63, 45, 29, 19, 11, 6, 3, 1, _],
];
const hsTrace = [
  [0.505, 0.521, 0.492, 0.512, 0.498, 0.526, 0.465, 0.508, 0.487, 0.515, 0.499, 0.524, 0.494, 0.511, 0.483, 0.518, 0.503, 0.529, 0.56, 0.496, 0.514, 0.489, 0.52, 0.502, 0.531, 0.493, 0.509, 0.485, 0.517, 0.46, 0.507, 0.496, 0.523, 0.488, 0.512, 0.501, 0.527, 0.491, 0.515, 0.504, 0.482, 0.519, 0.498, 0.51, 0.486, 0.555, 0.502, 0.522, 0.494, 0.513, 0.49, 0.525, 0.5, 0.516, 0.484, 0.508, 0.53, 0.497, 0.519, 0.489, 0.511, 0.495, 0.528, 0.503, 0.487, 0.517, 0.499, 0.523, 0.492, 0.509, 0.481, 0.514, 0.501, 0.526, 0.494, 0.51, 0.488, 0.52, 0.504, 0.532, 0.497, 0.513, 0.486, 0.518, 0.502, 0.524, 0.491, 0.507, 0.515, 0.484, 0.521, 0.499, 0.55, 0.509, 0.493, 0.517, 0.46, 0.505, 0.527, 0.496, 0.512, 0.488, 0.519, 0.503, 0.53, 0.494, 0.51, 0.485, 0.516, 0.5, 0.525, 0.491, 0.508, 0.482, 0.514, 0.498, 0.522, 0.506, 0.489, 0.518, 0.503, 0.529, 0.495, 0.511, 0.486, 0.52, 0.501, 0.46, 0.513, 0.497, 0.524, 0.49, 0.507, 0.516, 0.483, 0.511, 0.5, 0.528, 0.494, 0.509, 0.517, 0.488, 0.504, 0.459, 0.522, 0.499, 0.513, 0.486, 0.519, 0.502, 0.493, 0.527, 0.508, 0.484, 0.515, 0.497, 0.523, 0.49, 0.511, 0.505],
  [0.498, 0.512, 0.488, 0.519, 0.503, 0.527, 0.494, 0.509, 0.482, 0.515, 0.501, 0.524, 0.49, 0.506, 0.518, 0.496, 0.511, 0.485, 0.52, 0.504, 0.533, 0.497, 0.513, 0.489, 0.508, 0.522, 0.499, 0.486, 0.516, 0.503, 0.525, 0.492, 0.51, 0.498, 0.517, 0.484, 0.507, 0.54, 0.495, 0.512, 0.489, 0.519, 0.505, 0.493, 0.523, 0.5, 0.514, 0.487, 0.509, 0.531, 0.496, 0.51, 0.483, 0.518, 0.502, 0.524, 0.491, 0.506, 0.515, 0.498, 0.52, 0.487, 0.509, 0.496, 0.513, 0.529, 0.494, 0.505, 0.488, 0.517, 0.501, 0.526, 0.493, 0.511, 0.499, 0.485, 0.516, 0.504, 0.521, 0.49, 0.508, 0.497, 0.53, 0.502, 0.489, 0.514, 0.506, 0.495, 0.518, 0.5, 0.524, 0.491, 0.51, 0.498, 0.515, 0.486, 0.507, 0.519, 0.503, 0.496, 0.513, 0.488, 0.522, 0.501, 0.527, 0.494, 0.545, 0.509, 0.486, 0.516, 0.499, 0.523, 0.492, 0.512, 0.483, 0.518, 0.505, 0.496, 0.526, 0.502, 0.49, 0.515, 0.507, 0.528, 0.497, 0.511, 0.485, 0.52, 0.503, 0.494, 0.517, 0.5, 0.488, 0.524, 0.509, 0.495, 0.514, 0.531, 0.492, 0.506, 0.521, 0.498, 0.512, 0.487, 0.516, 0.503, 0.525, 0.493, 0.51, 0.499, 0.485, 0.518, 0.502, 0.527, 0.495, 0.511, 0.489, 0.514, 0.506, 0.52],
  [0.512, 0.495, 0.507, 0.486, 0.52, 0.501, 0.514, 0.492, 0.526, 0.504, 0.489, 0.517, 0.499, 0.511, 0.483, 0.522, 0.497, 0.508, 0.516, 0.491, 0.505, 0.528, 0.494, 0.513, 0.5, 0.487, 0.519, 0.503, 0.496, 0.524, 0.49, 0.51, 0.506, 0.532, 0.498, 0.515, 0.485, 0.509, 0.501, 0.521, 0.493, 0.507, 0.518, 0.488, 0.512, 0.503, 0.527, 0.495, 0.514, 0.491, 0.506, 0.523, 0.499, 0.487, 0.516, 0.502, 0.51, 0.494, 0.52, 0.505, 0.489, 0.513, 0.5, 0.525, 0.496, 0.508, 0.484, 0.517, 0.503, 0.511, 0.493, 0.472, 0.506, 0.49, 0.514, 0.5, 0.529, 0.497, 0.509, 0.486, 0.518, 0.502, 0.495, 0.512, 0.507, 0.489, 0.521, 0.504, 0.498, 0.515, 0.492, 0.51, 0.526, 0.501, 0.488, 0.516, 0.505, 0.494, 0.512, 0.507, 0.523, 0.496, 0.509, 0.484, 0.517, 0.502, 0.49, 0.514, 0.528, 0.499, 0.511, 0.487, 0.52, 0.503, 0.495, 0.47, 0.508, 0.524, 0.492, 0.513, 0.5, 0.518, 0.489, 0.506, 0.527, 0.497, 0.512, 0.485, 0.515, 0.503, 0.494, 0.521, 0.508, 0.49, 0.513, 0.501, 0.526, 0.496, 0.51, 0.487, 0.516, 0.499, 0.484, 0.511, 0.505, 0.522, 0.493, 0.509, 0.517, 0.502, 0.497, 0.514, 0.503, 0.525, 0.49, 0.508, 0.519, 0.495, 0.512, 0.506],
  [0.501, 0.516, 0.524, 0.497, 0.51, 0.489, 0.519, 0.506, 0.493, 0.513, 0.528, 0.5, 0.486, 0.515, 0.503, 0.521, 0.495, 0.508, 0.488, 0.518, 0.504, 0.492, 0.526, 0.51, 0.498, 0.514, 0.485, 0.52, 0.502, 0.509, 0.494, 0.517, 0.499, 0.523, 0.507, 0.49, 0.512, 0.496, 0.519, 0.503, 0.487, 0.525, 0.506, 0.514, 0.498, 0.491, 0.517, 0.505, 0.511, 0.494, 0.521, 0.5, 0.486, 0.513, 0.508, 0.497, 0.524, 0.502, 0.555, 0.458, 0.515, 0.49, 0.506, 0.518, 0.499, 0.485, 0.52, 0.51, 0.496, 0.527, 0.503, 0.512, 0.488, 0.516, 0.501, 0.522, 0.495, 0.509, 0.514, 0.498, 0.526, 0.504, 0.491, 0.517, 0.507, 0.5, 0.519, 0.492, 0.513, 0.505, 0.497, 0.521, 0.508, 0.494, 0.516, 0.489, 0.511, 0.503, 0.524, 0.499, 0.51, 0.486, 0.518, 0.502, 0.527, 0.495, 0.513, 0.506, 0.491, 0.52, 0.504, 0.516, 0.497, 0.512, 0.488, 0.523, 0.501, 0.509, 0.494, 0.517, 0.525, 0.499, 0.511, 0.49, 0.514, 0.505, 0.52, 0.496, 0.508, 0.487, 0.513, 0.502, 0.519, 0.493, 0.507, 0.545, 0.498, 0.515, 0.49, 0.511, 0.506, 0.521, 0.495, 0.51, 0.501, 0.518, 0.492, 0.512, 0.504, 0.524, 0.498, 0.509, 0.516, 0.491, 0.505, 0.52, 0.55, 0.503, 0.511, 0.499],
];
const hsKdeTicks = [0.46, 0.48, 0.5, 0.52, 0.54, 0.56];
const hsTraceTicks = [0.475, 0.5, 0.525, 0.55];

// rows of the figure
const PANELS = [
  { name: "Intercept", grid: interceptGrid, kde: interceptKde, trace: interceptTrace, domain: [-2.935, -2.385], kdeTicks: interceptKdeTicks, traceTicks: interceptTraceTicks, kdeDigits: 1, traceDigits: 1 },
  { name: "sex", grid: sexGrid, kde: sexKde, trace: sexTrace, domain: [0.8725, 1.1535], kdeTicks: sexKdeTicks, traceTicks: sexTraceTicks, kdeDigits: 2, traceDigits: 1 },
  { name: "race", grid: raceGrid, kde: raceKde, trace: raceTrace, domain: [0.397, 0.903], kdeTicks: raceKdeTicks, traceTicks: raceTraceTicks, kdeDigits: 1, traceDigits: 1 },
  { name: "age", grid: ageGrid, kde: ageKde, trace: ageTrace, domain: [0.5217, 0.6383], kdeTicks: ageKdeTicks, traceTicks: ageTraceTicks, kdeDigits: 2, traceDigits: 3 },
  { name: "hs_week", grid: hsGrid, kde: hsKde, trace: hsTrace, domain: [0.4508, 0.5652], kdeTicks: hsKdeTicks, traceTicks: hsTraceTicks, kdeDigits: 2, traceDigits: 3 },
];

const ROW_TOPS = [30, 231, 432, 632, 833];
const PLOT_H = 149;
const PAD_TOP = 10;
const AXIS_H = 30;

const fmt = (digits: number) => (v: number) => v.toFixed(digits).replace("-", "\u2212");
const tickStyle = { fill: TEXT, fontSize: 13.5, fontFamily: FONT };

function Title({ text, left, top }: { text: string; left: number; top: number }) {
  return (
    <div
      style={{
        position: "absolute",
        left,
        top: top - 23,
        width: 554,
        height: 20,
        lineHeight: "20px",
        textAlign: "center",
        fontFamily: FONT,
        fontSize: 15.5,
        color: TEXT,
      }}
    >
      {text}
    </div>
  );
}

function KdePanel({ p, top }: { p: (typeof PANELS)[number]; top: number }) {
  const data = p.grid.map((x, i) => {
    const row: Record<string, number | null> = { x };
    p.kde.forEach((chain, c) => (row[CHAINS[c]] = chain[i]));
    return row;
  });
  return (
    <div style={{ position: "absolute", left: 0, top: top - PAD_TOP }}>
      <LineChart width={590} height={PLOT_H + AXIS_H + PAD_TOP} data={data} margin={{ top: PAD_TOP, right: 18, bottom: 0, left: 18 }}>
        <CartesianGrid horizontal={false} stroke="#ffffff" strokeWidth={1} fill={PANEL_BG} fillOpacity={1} />
        <XAxis
          dataKey="x"
          type="number"
          domain={p.domain}
          ticks={p.kdeTicks}
          interval={0}
          allowDataOverflow
          tickFormatter={fmt(p.kdeDigits)}
          tickLine={false}
          axisLine={false}
          tick={tickStyle}
          height={AXIS_H}
        />
        <YAxis hide type="number" domain={[-5, 105]} />
        {CHAINS.map((key, c) => (
          <Line
            key={key}
            dataKey={key}
            type="monotone"
            stroke={BLUE}
            strokeWidth={1.4}
            strokeDasharray={CHAIN_DASH[c]}
            dot={false}
            activeDot={false}
            connectNulls={false}
            isAnimationActive={false}
          />
        ))}
      </LineChart>
    </div>
  );
}

function TracePanel({ p, top }: { p: (typeof PANELS)[number]; top: number }) {
  // one row per (chain, draw), sorted by draw; each line skips the other chains' rows
  const data: Record<string, number>[] = [];
  p.trace.forEach((chain, c) => chain.forEach((v, i) => data.push({ x: drawAt(i, c), [CHAINS[c]]: v })));
  data.sort((a, b) => a.x - b.x);
  return (
    <div style={{ position: "absolute", left: 590, top: top - PAD_TOP }}>
      <LineChart width={621} height={PLOT_H + AXIS_H + PAD_TOP} data={data} margin={{ top: PAD_TOP, right: 9, bottom: 0, left: 0 }}>
        <CartesianGrid stroke="#ffffff" strokeWidth={1} fill={PANEL_BG} fillOpacity={1} />
        <XAxis
          dataKey="x"
          type="number"
          domain={[0, 999]}
          ticks={DRAW_TICKS}
          interval={0}
          allowDataOverflow
          tickLine={false}
          axisLine={false}
          tick={tickStyle}
          height={AXIS_H}
        />
        <YAxis
          type="number"
          width={58}
          domain={p.domain}
          ticks={p.traceTicks}
          interval={0}
          allowDataOverflow
          tickFormatter={fmt(p.traceDigits)}
          tickLine={false}
          axisLine={false}
          tick={tickStyle}
        />
        {CHAINS.map((key, c) => (
          <Line
            key={key}
            dataKey={key}
            type="linear"
            stroke={BLUE}
            strokeOpacity={0.5}
            strokeWidth={1.2}
            strokeDasharray={CHAIN_DASH[c]}
            dot={false}
            activeDot={false}
            connectNulls
            isAnimationActive={false}
          />
        ))}
      </LineChart>
    </div>
  );
}

export default function App() {
  return (
    <div style={{ position: "absolute", left: 0, top: 0, width: 1211, height: 1011, background: "#ffffff" }}>
      {PANELS.map((p, r) => (
        <div key={p.name}>
          <Title text={p.name} left={18} top={ROW_TOPS[r]} />
          <KdePanel p={p} top={ROW_TOPS[r]} />
          <Title text={p.name} left={648} top={ROW_TOPS[r]} />
          <TracePanel p={p} top={ROW_TOPS[r]} />
        </div>
      ))}
    </div>
  );
}
